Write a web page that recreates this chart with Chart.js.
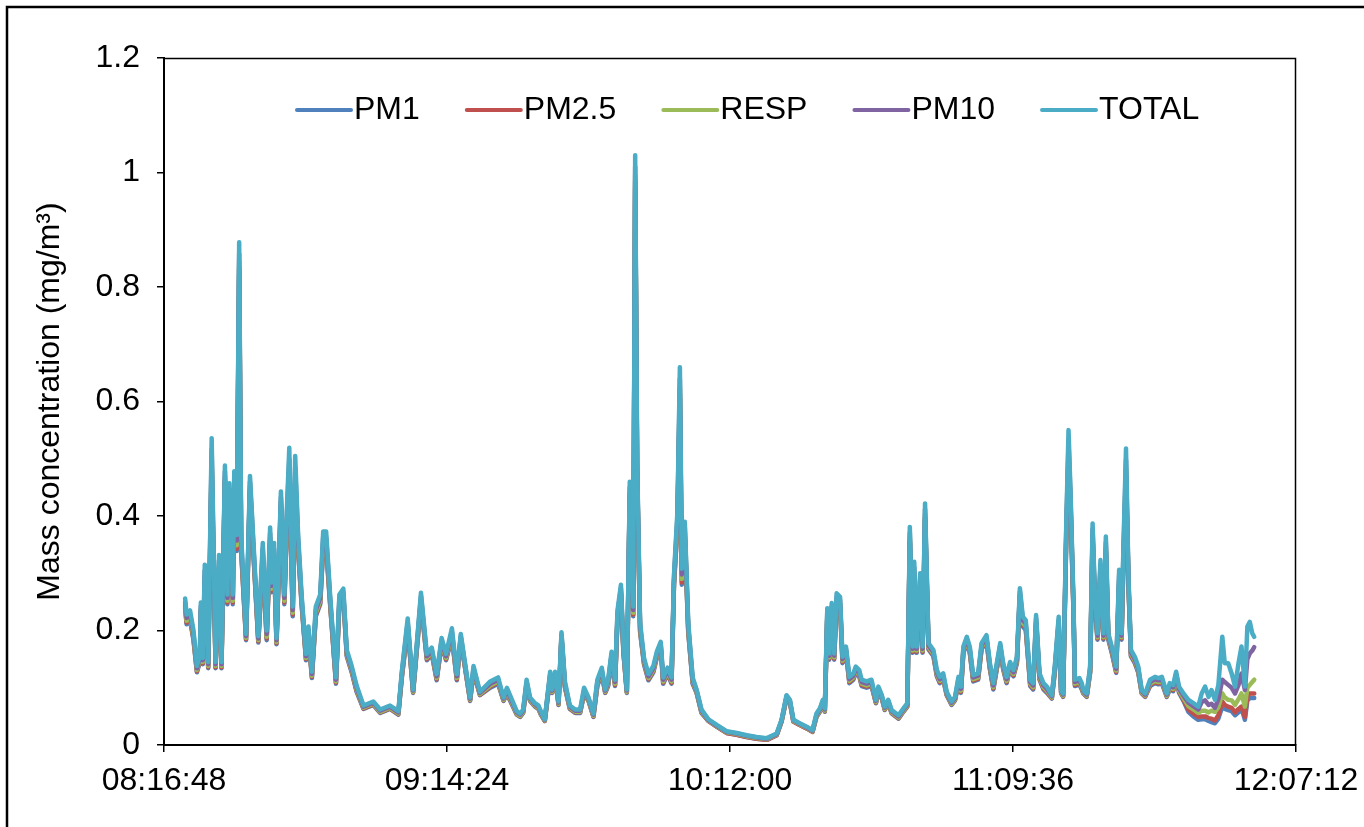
<!DOCTYPE html>
<html>
<head>
<meta charset="utf-8">
<script src="https://cdn.jsdelivr.net/npm/chart.js@4.4.1/dist/chart.umd.min.js"></script>
<style>
  html, body { margin: 0; padding: 0; background: #fff; }
  canvas { display: block; }
</style>
</head>
<body>
<canvas id="pmChart" width="1364" height="827"></canvas>
<script>
// PM mass concentration time series (elapsed minutes from 08:16:48)

const xTickMin = [0, 57.6, 115.2, 172.8, 230.4];
const xTickLabels = ['08:16:48', '09:14:24', '10:12:00', '11:09:36', '12:07:12'];
const yTickVals = [0, 0.2, 0.4, 0.6, 0.8, 1, 1.2];
const yTickLabels = ['0', '0.2', '0.4', '0.6', '0.8', '1', '1.2'];

const seriesNames = ['PM1', 'PM2.5', 'RESP', 'PM10', 'TOTAL'];
const seriesColors = ['#4F81BD', '#C0504D', '#9BBB59', '#8064A2', '#4BACC6'];

const elapsedMin = [
    4.3, 4.6, 5.3, 6.0, 6.7, 7.3, 7.5, 7.9, 8.3, 9.0,
    9.7, 10.5, 11.2, 11.7, 12.4, 12.9, 13.3, 14.0, 14.3, 14.8,
    15.3, 15.7, 16.7, 17.5, 19.2, 20.1, 20.9, 21.6, 21.9, 22.4,
    22.9, 23.8, 24.5, 25.0, 25.5, 26.2, 26.7, 27.3, 28.0, 28.9,
    29.4, 30.1, 30.9, 31.8, 32.4, 33.0, 33.8, 35.0, 35.7, 36.5,
    37.2, 38.2, 39.2, 40.6, 42.6, 44.0, 46.0, 47.7, 48.4, 49.6,
    50.7, 52.3, 53.5, 54.5, 55.5, 56.5, 57.4, 58.6, 59.6, 60.4,
    62.3, 63.0, 64.3, 66.4, 68.0, 69.1, 69.8, 71.8, 72.5, 73.1,
    73.8,
    74.5, 75.5, 76.2, 76.7, 77.5, 78.6, 79.0, 79.6, 80.3, 80.9,
    81.6, 82.6, 83.7, 84.7, 85.5, 86.4, 87.4, 88.2, 89.1, 89.8,
    90.4, 91.1, 91.8, 92.3, 93.0, 93.5, 94.2, 94.8, 95.5, 95.9,
    96.3, 96.9, 97.7, 98.6, 99.6, 100.3, 101.1, 101.6, 102.5, 103.3,
    103.8, 104.5, 105.0, 105.4, 106.0, 106.7, 107.6, 108.4, 109.4, 110.8,
    112.5, 114.5, 116.6, 118.6, 120.6, 122.7,
    124.7, 125.7, 126.7, 127.4, 128.1, 129.4, 130.8, 132.0, 132.8, 133.5,
    134.1, 134.5, 135.0, 135.4, 135.9, 136.4, 136.9, 137.6, 138.1, 138.8,
    139.5, 140.3, 140.8, 141.5, 142.0, 143.0, 144.0, 144.9, 145.4, 146.1,
    146.7, 147.4, 148.1, 149.5, 150.5, 151.3, 151.8, 152.4, 152.7, 153.2,
    153.9, 154.4, 154.9, 155.6, 156.6, 157.3, 157.9, 158.6, 159.3, 160.3,
    161.0, 161.7, 162.2, 162.7, 163.4, 164.0, 164.7, 165.7, 166.4, 167.4,
    168.1, 168.8, 170.2, 170.8, 171.5, 172.2, 172.9, 173.6, 174.2, 174.8,
    175.4, 176.3, 176.9, 177.5, 178.2, 179.0, 179.7, 180.7, 181.3, 182.1,
    182.6, 183.0, 183.6, 184.1, 184.5, 185.1, 185.4,
    186.3, 186.8, 187.1, 187.8, 188.5, 189.0, 189.5, 190.0, 190.6, 191.2,
    191.7, 192.2, 192.9, 193.8, 194.4, 194.9, 195.2, 195.8, 196.3, 196.8,
    197.6, 198.3, 199.0, 199.7, 200.7, 201.7, 202.4, 203.1, 204.1, 204.7,
    205.4, 206.0, 206.6, 207.5, 208.5, 209.5, 210.5, 211.2, 211.9, 212.6,
    213.2, 213.9, 214.6, 215.4, 215.9, 216.6, 217.3, 218.0, 218.7, 219.3,
    220.0, 220.5, 221.0, 221.5, 221.9
];

const total = [
    .256,.228,.235,.200,.138,.156,.249,.152,.315,.145,
    .536,.145,.332,.145,.488,.263,.457,.263,.478,.367,
    .878,.367,.194,.470,.190,.353,.200,.380,.284,.353,
    .187,.443,.263,.408,.519,.242,.505,.367,.263,.159,
    .207,.128,.242,.263,.373,.373,.263,.118,.263,.273,
    .166,.138,.104,.069,.076,.062,.069,.059,.128,.221,
    .097,.266,.159,.170,.124,.187,.159,.204,.124,.194,
    .083,.138,.093,.111,.118,.083,.100,.059,.055,.062,
    .114,
    .083,.073,.069,.059,.045,.128,.097,.128,.076,.197,
    .111,.069,.062,.062,.100,.083,.055,.114,.135,.097,
    .114,.163,.114,.235,.280,.173,.097,.460,.242,1.030,
    .498,.214,.152,.124,.138,.163,.180,.118,.135,.118,
    .297,.408,.660,.308,.390,.214,.118,.097,.062,.045,
    .035,.024,.021,.017,.014,.012,
    .020,.044,.087,.079,.044,.038,.032,.026,.055,.064,
    .079,.064,.239,.160,.248,.160,.265,.259,.154,.172,
    .119,.125,.137,.131,.114,.111,.114,.079,.102,.087,
    .067,.079,.061,.052,.064,.073,.381,.172,.320,.172,
    .300,.172,.422,.178,.166,.131,.119,.125,.093,.076,
    .084,.119,.102,.172,.189,.172,.122,.125,.178,.192,
    .143,.108,.178,.143,.119,.145,.131,.154,.274,.224,
    .218,.114,.108,.227,.125,.108,.102,.087,.137,.224,
    .096,.090,.370,.550,.445,.253,.114,
    .117,.108,.096,.090,.137,.387,.253,.195,.323,.195,
    .364,.195,.172,.137,.306,.195,.320,.518,.294,.166,
    .154,.137,.096,.090,.114,.119,.117,.119,.090,.108,
    .105,.128,.102,.090,.079,.073,.067,.090,.102,.084,
    .096,.079,.105,.189,.143,.143,.125,.102,.143,.172,
    .102,.207,.215,.195,.189
];

const pm10 = [
    .250,.222,.229,.194,.134,.152,.243,.148,.305,.141,
    .516,.141,.322,.141,.478,.257,.447,.257,.468,.357,
    .858,.357,.190,.460,.186,.343,.194,.370,.278,.343,
    .183,.433,.257,.398,.499,.236,.485,.357,.257,.155,
    .201,.124,.236,.257,.363,.363,.257,.114,.257,.267,
    .162,.134,.100,.067,.074,.060,.067,.057,.124,.215,
    .095,.260,.155,.166,.120,.183,.155,.198,.120,.190,
    .081,.134,.091,.107,.114,.081,.096,.057,.053,.060,
    .110,
    .081,.071,.067,.057,.044,.124,.095,.124,.074,.193,
    .107,.067,.060,.060,.096,.081,.053,.110,.131,.095,
    .110,.159,.110,.229,.274,.169,.095,.450,.236,1.010,
    .488,.208,.148,.120,.134,.159,.176,.114,.131,.114,
    .291,.398,.640,.298,.380,.208,.114,.095,.060,.044,
    .034,.023,.020,.016,.013,.011,
    .019,.043,.085,.077,.043,.037,.031,.025,.053,.062,
    .077,.062,.233,.156,.242,.156,.259,.253,.150,.168,
    .115,.121,.133,.127,.110,.107,.110,.077,.098,.085,
    .065,.077,.059,.050,.062,.071,.371,.168,.310,.168,
    .290,.168,.412,.174,.162,.127,.115,.121,.091,.074,
    .082,.115,.098,.168,.185,.168,.118,.121,.174,.188,
    .139,.104,.174,.139,.115,.141,.127,.150,.268,.218,
    .212,.110,.104,.221,.121,.104,.098,.085,.133,.218,
    .094,.088,.360,.530,.435,.247,.110,
    .113,.104,.094,.088,.133,.377,.247,.191,.313,.191,
    .354,.191,.168,.133,.296,.191,.310,.498,.288,.162,
    .150,.133,.094,.088,.110,.115,.113,.115,.088,.104,
    .101,.124,.098,.086,.074,.068,.062,.075,.078,.070,
    .072,.065,.080,.114,.110,.105,.100,.090,.105,.125,
    .096,.150,.160,.165,.171
];

const resp = [
    .245,.217,.224,.189,.131,.149,.238,.145,.297,.138,
    .501,.138,.314,.138,.470,.252,.439,.252,.460,.349,
    .843,.349,.187,.452,.183,.335,.189,.362,.273,.335,
    .180,.425,.252,.390,.484,.231,.470,.349,.252,.152,
    .196,.121,.231,.252,.355,.355,.252,.111,.252,.262,
    .159,.131,.097,.065,.072,.058,.065,.055,.121,.210,
    .093,.255,.152,.163,.117,.180,.152,.193,.117,.187,
    .079,.131,.089,.104,.111,.079,.093,.055,.051,.058,
    .107,
    .079,.069,.065,.055,.043,.121,.093,.121,.072,.190,
    .104,.065,.058,.058,.093,.079,.051,.107,.128,.093,
    .107,.156,.107,.224,.269,.166,.093,.442,.231,.995,
    .480,.203,.145,.117,.131,.156,.173,.111,.128,.111,
    .286,.390,.625,.290,.372,.203,.111,.093,.058,.043,
    .033,.022,.019,.015,.012,.010,
    .018,.042,.083,.075,.042,.036,.030,.024,.051,.060,
    .075,.060,.228,.153,.237,.153,.254,.248,.147,.165,
    .112,.118,.130,.124,.107,.104,.107,.075,.095,.083,
    .063,.075,.057,.048,.060,.069,.363,.165,.302,.165,
    .282,.165,.404,.171,.159,.124,.112,.118,.089,.072,
    .080,.112,.095,.165,.182,.165,.115,.118,.171,.185,
    .136,.101,.171,.136,.112,.138,.124,.147,.263,.213,
    .207,.107,.101,.216,.118,.101,.095,.083,.130,.213,
    .092,.086,.352,.515,.427,.242,.107,
    .110,.101,.092,.086,.130,.369,.242,.188,.305,.188,
    .346,.188,.165,.130,.288,.188,.302,.483,.283,.159,
    .147,.130,.092,.086,.107,.112,.110,.112,.086,.101,
    .098,.121,.095,.082,.068,.062,.056,.060,.060,.057,
    .060,.058,.066,.090,.083,.079,.078,.070,.080,.090,
    .067,.100,.105,.110,.114
];

const pm25 = [
    .242,.214,.221,.186,.129,.147,.235,.143,.291,.136,
    .491,.136,.308,.136,.464,.249,.433,.249,.454,.343,
    .833,.343,.185,.446,.181,.329,.186,.356,.270,.329,
    .178,.419,.249,.384,.474,.228,.460,.343,.249,.150,
    .193,.119,.228,.249,.349,.349,.249,.109,.249,.259,
    .157,.129,.095,.064,.071,.057,.064,.054,.119,.207,
    .092,.252,.150,.161,.115,.178,.150,.190,.115,.185,
    .078,.129,.088,.102,.109,.078,.091,.054,.050,.057,
    .105,
    .078,.068,.064,.054,.042,.119,.092,.119,.071,.188,
    .102,.064,.057,.057,.091,.078,.050,.105,.126,.092,
    .105,.154,.105,.221,.266,.164,.092,.436,.228,.985,
    .474,.200,.143,.115,.129,.154,.171,.109,.126,.109,
    .283,.384,.615,.284,.366,.200,.109,.092,.057,.042,
    .032,.021,.018,.014,.011,.009,
    .017,.041,.082,.074,.041,.035,.029,.023,.050,.059,
    .074,.059,.225,.151,.234,.151,.251,.245,.145,.163,
    .110,.116,.128,.122,.105,.102,.105,.074,.093,.082,
    .062,.074,.056,.047,.059,.068,.357,.163,.296,.163,
    .276,.163,.398,.169,.157,.122,.110,.116,.088,.071,
    .079,.110,.093,.163,.180,.163,.113,.116,.169,.183,
    .134,.099,.169,.134,.110,.136,.122,.145,.260,.210,
    .204,.105,.099,.213,.116,.099,.093,.082,.128,.210,
    .091,.085,.346,.505,.421,.239,.105,
    .108,.099,.091,.085,.128,.363,.239,.186,.299,.186,
    .340,.186,.163,.128,.282,.186,.296,.473,.280,.157,
    .145,.128,.091,.085,.105,.110,.108,.110,.085,.099,
    .096,.119,.093,.079,.062,.055,.049,.050,.050,.047,
    .046,.043,.052,.076,.070,.067,.065,.057,.063,.067,
    .049,.085,.090,.090,.090
];

const pm1 = [
    .239,.211,.218,.183,.127,.145,.232,.141,.287,.134,
    .481,.134,.304,.134,.460,.246,.429,.246,.450,.339,
    .823,.339,.183,.442,.179,.325,.183,.352,.267,.325,
    .176,.415,.246,.380,.464,.225,.450,.339,.246,.148,
    .190,.117,.225,.246,.345,.345,.246,.107,.246,.256,
    .155,.127,.093,.063,.070,.056,.063,.053,.117,.204,
    .091,.249,.148,.159,.113,.176,.148,.187,.113,.183,
    .077,.127,.087,.100,.107,.077,.089,.053,.049,.056,
    .103,
    .077,.067,.063,.053,.042,.117,.091,.117,.070,.186,
    .100,.063,.056,.056,.089,.077,.049,.103,.124,.091,
    .103,.152,.103,.218,.263,.162,.091,.432,.225,.975,
    .470,.197,.141,.113,.127,.152,.169,.107,.124,.107,
    .280,.380,.605,.280,.362,.197,.107,.091,.056,.042,
    .032,.021,.018,.014,.011,.009,
    .017,.041,.081,.073,.041,.035,.029,.023,.049,.058,
    .073,.058,.222,.149,.231,.149,.248,.242,.143,.161,
    .108,.114,.126,.120,.103,.100,.103,.073,.091,.081,
    .061,.073,.055,.046,.058,.067,.353,.161,.292,.161,
    .272,.161,.394,.167,.155,.120,.108,.114,.087,.070,
    .078,.108,.091,.161,.178,.161,.111,.114,.167,.181,
    .132,.097,.167,.132,.108,.134,.120,.143,.257,.207,
    .201,.103,.097,.210,.114,.097,.091,.081,.126,.207,
    .090,.084,.342,.495,.417,.236,.103,
    .106,.097,.090,.084,.126,.359,.236,.184,.295,.184,
    .336,.184,.161,.126,.278,.184,.292,.463,.277,.155,
    .143,.126,.090,.084,.103,.108,.106,.108,.084,.097,
    .094,.117,.091,.077,.058,.050,.044,.045,.045,.042,
    .040,.038,.046,.067,.063,.061,.059,.052,.057,.064,
    .044,.078,.082,.082,.082
];

const seriesData = [pm1, pm25, resp, pm10, total];
seriesData.forEach((s, i) => {
    if (s.length !== elapsedMin.length) console.warn(seriesNames[i] + ' length mismatch', s.length, elapsedMin.length);
});

const FONT = '"Liberation Sans", Arial, sans-serif';
Chart.defaults.font.family = FONT;
Chart.defaults.font.size = 32;
Chart.defaults.color = '#000';

// 바깥 테두리, 플롯 테두리, 범례
const framePlugin = {
    id: 'frame',
    beforeDraw(chart) {
        const ctx = chart.ctx;
        ctx.save();
        ctx.fillStyle = '#fff';
        ctx.fillRect(0, 0, chart.width, chart.height);
        ctx.strokeStyle = '#000';
        ctx.lineWidth = 2.5;
        ctx.strokeRect(7, 7, chart.width + 40, chart.height + 40);
        ctx.restore();
    },
    afterDraw(chart) {
        const { ctx, chartArea: a } = chart;
        ctx.save();
        ctx.strokeStyle = '#000';
        ctx.lineWidth = 1.5;
        ctx.beginPath();
        ctx.moveTo(a.left, a.top + 0.5);
        ctx.lineTo(a.right - 0.5, a.top + 0.5);
        ctx.lineTo(a.right - 0.5, a.bottom);
        ctx.stroke();

        ctx.font = '32px ' + FONT;
        ctx.textBaseline = 'middle';
        ctx.textAlign = 'left';
        let x = 297;
        const y = 110;
        seriesNames.forEach((name, i) => {
            ctx.strokeStyle = seriesColors[i];
            ctx.lineWidth = 4;
            ctx.lineCap = 'round';
            ctx.beginPath();
            ctx.moveTo(x, y);
            ctx.lineTo(x + 54, y);
            ctx.stroke();
            ctx.fillStyle = '#000';
            ctx.fillText(name, x + 57, y);
            x += 57 + ctx.measureText(name).width + 47;
        });
        ctx.restore();
    }
};

const ctx = document.getElementById('pmChart');
new Chart(ctx, {
    type: 'line',
    data: {
        datasets: seriesNames.map((name, i) => ({
            label: name,
            data: elapsedMin.map((m, j) => ({ x: m, y: seriesData[i][j] })),
            borderColor: seriesColors[i],
            backgroundColor: seriesColors[i],
            borderWidth: 4.5,
            pointRadius: 0,
            tension: 0,
            borderJoinStyle: 'round',
            borderCapStyle: 'round',
            order: seriesNames.length - i
        }))
    },
    options: {
        responsive: false,
        animation: false,
        devicePixelRatio: 1,
        layout: { padding: { left: 0, top: 58, right: 68, bottom: 0 } },
        plugins: {
            legend: { display: false },
            tooltip: { enabled: false }
        },
        scales: {
            x: {
                type: 'linear',
                min: 0,
                max: 230.4,
                afterBuildTicks: s => { s.ticks = xTickMin.map(v => ({ value: v })); },
                afterFit: s => { s.height = 82; s.paddingLeft = 0; s.paddingRight = 0; },
                ticks: {
                    autoSkip: false,
                    maxRotation: 0,
                    padding: 10,
                    callback: (v, i) => xTickLabels[i]
                },
                grid: { drawOnChartArea: false, drawTicks: true, tickLength: 7, color: '#000', lineWidth: 1.5 },
                border: { display: true, color: '#000', width: 2 }
            },
            y: {
                min: 0,
                max: 1.2,
                afterBuildTicks: s => { s.ticks = yTickVals.map(v => ({ value: v })); },
                afterFit: s => { s.width = 164; s.paddingTop = 0; s.paddingBottom = 0; },
                ticks: {
                    padding: 17,
                    callback: (v, i) => yTickLabels[i]
                },
                grid: { drawOnChartArea: false, drawTicks: true, tickLength: 7, color: '#000', lineWidth: 1.5 },
                border: { display: true, color: '#000', width: 2 },
                title: {
                    display: true,
                    text: 'Mass concentration (mg/m³)',
                    font: { size: 32 },
                    padding: { top: 31, bottom: 0 }
                }
            }
        }
    },
    plugins: [framePlugin]
});
</script>
</body>
</html>
